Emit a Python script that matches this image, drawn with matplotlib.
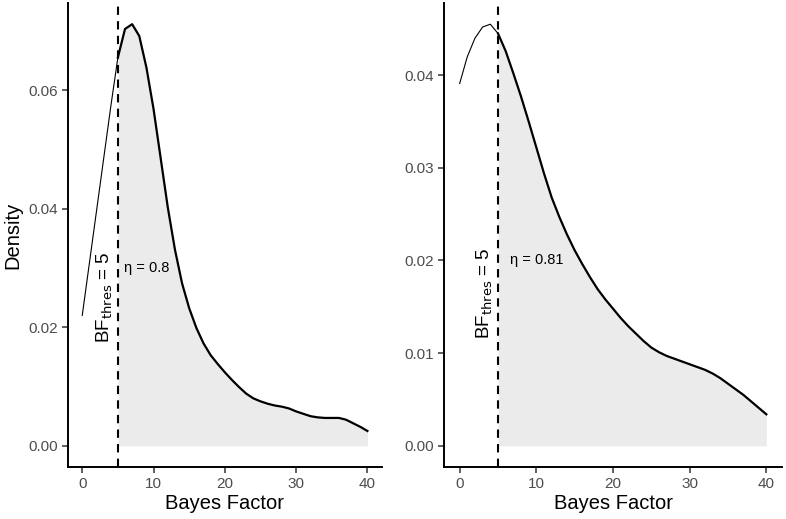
import matplotlib.pyplot as plt

plt.rcParams['font.family'] = ['Liberation Sans', 'DejaVu Sans']

# Bayes factor grid and density estimates
bf = list(range(0, 41))
dens_left = [0.0220, 0.0308, 0.0396, 0.0484, 0.0572, 0.0655, 0.0703, 0.0711, 0.0691, 0.0638,
             0.0568, 0.0485, 0.0402, 0.0331, 0.0274, 0.0232, 0.0199, 0.0173, 0.0153, 0.0138,
             0.0124, 0.0111, 0.0099, 0.0088, 0.0080, 0.0075, 0.0071, 0.0068, 0.0066, 0.0063,
             0.0058, 0.0054, 0.0050, 0.0048, 0.0047, 0.0047, 0.0047, 0.0044, 0.0038, 0.0032,
             0.0025]
dens_right = [0.0391, 0.0420, 0.0440, 0.0452, 0.0455, 0.0445, 0.0426, 0.0402, 0.0377, 0.0350,
              0.0322, 0.0294, 0.0268, 0.0247, 0.0228, 0.0211, 0.0196, 0.0182, 0.0169, 0.0158,
              0.0148, 0.0138, 0.0129, 0.0121, 0.0113, 0.0106, 0.0101, 0.0097, 0.0094, 0.0091,
              0.0088, 0.0085, 0.0082, 0.0078, 0.0073, 0.0067, 0.0061, 0.0055, 0.0048, 0.0041,
              0.0034]
bf_thres = 5
etas = ["0.8", "0.81"]
yticks_left = [0.00, 0.02, 0.04, 0.06]
yticks_right = [0.00, 0.01, 0.02, 0.03, 0.04]
xticks = [0, 10, 20, 30, 40]

fig = plt.figure(figsize=(7.86, 5.19), dpi=100)
ax1 = fig.add_axes([0.0865, 0.1004, 0.3991, 0.8936])
ax2 = fig.add_axes([0.5653, 0.1004, 0.4292, 0.8936])

panels = [
    (ax1, dens_left, yticks_left, etas[0], 0.025, (5.8, 0.030)),
    (ax2, dens_right, yticks_right, etas[1], 0.0165, (6.6, 0.020)),
]

for ax, dens, yt, eta, label_y, eta_pos in panels:
    lo_x = [x for x in bf if x <= bf_thres]
    lo_y = dens[:len(lo_x)]
    hi_x = [x for x in bf if x >= bf_thres]
    hi_y = dens[len(lo_x) - 1:]
    ax.fill_between(hi_x, 0, hi_y, color='#EBEBEB', linewidth=0, zorder=1)
    ax.plot(lo_x, lo_y, color='black', linewidth=0.8, zorder=3, solid_joinstyle='round')
    ax.plot(hi_x, hi_y, color='black', linewidth=1.6, zorder=3, solid_joinstyle='round')
    ax.axvline(bf_thres, color='black', linestyle=(0, (4, 3)), linewidth=1.5, zorder=4)
    ax.text(bf_thres - 0.4, label_y, r'BF$_{\mathrm{thres}}$ = 5', rotation=90,
            ha='right', va='center', fontsize=13.5)
    ax.text(eta_pos[0], eta_pos[1], '\u03b7 = ' + eta, ha='left', va='center', fontsize=10.5)

    ymax = max(dens)
    ax.set_ylim(-0.05 * ymax, 1.05 * ymax)
    ax.set_xlim(-2, 42)
    ax.set_xticks(xticks)
    ax.set_yticks(yt)
    ax.set_yticklabels(['%.2f' % v for v in yt])
    for side in ['top', 'right']:
        ax.spines[side].set_visible(False)
    for side in ['left', 'bottom']:
        ax.spines[side].set_linewidth(1.4)
    ax.tick_params(labelsize=11, labelcolor='#4D4D4D', color='#333333', length=4, width=1.1)
    ax.set_xlabel('Bayes Factor', fontsize=14.5, labelpad=2)

ax1.set_ylabel('Density', fontsize=14.5, labelpad=4)

fig.savefig('out.png', dpi=100)
